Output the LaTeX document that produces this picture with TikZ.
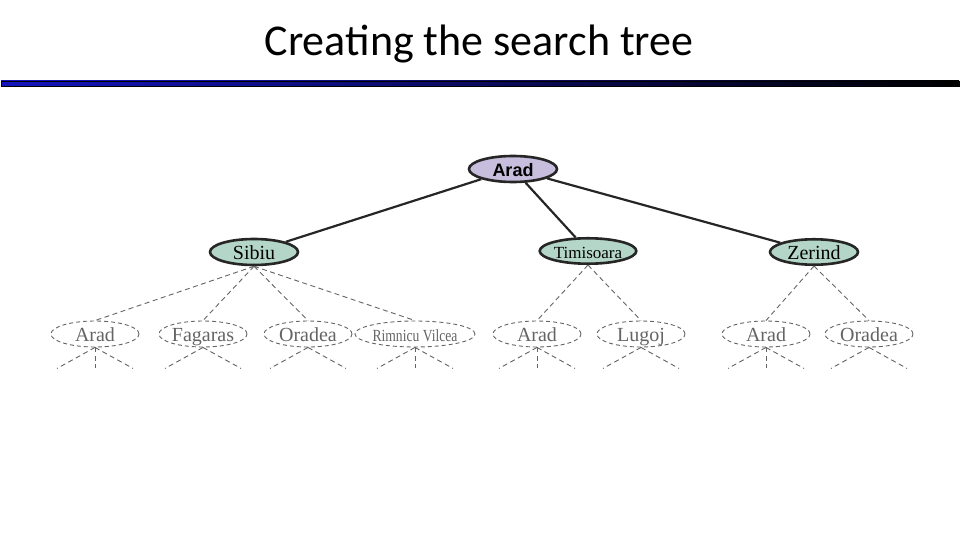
\documentclass[tikz,border=0pt]{standalone}
\usepackage{fontspec}
\setmainfont{Liberation Serif}
\newfontfamily\titlefont{Carlito}
\newfontfamily\rootfont{Liberation Sans}
\usetikzlibrary{shapes.geometric}
\definecolor{rootfill}{RGB}{198,190,220}
\definecolor{kidfill}{RGB}{180,214,200}
\definecolor{leafgray}{RGB}{100,100,100}
\definecolor{barblue}{RGB}{20,20,190}
\tikzset{
  basenode/.style={ellipse,inner sep=0pt,minimum width=88pt,minimum height=26pt,text height=16pt,text depth=2pt},
  rootnode/.style={basenode,draw=black!85,line width=2.6pt,fill=rootfill,font=\rootfont\bfseries\fontsize{18}{18}\selectfont},
  kidnode/.style={basenode,draw=black!85,line width=2.6pt,fill=kidfill,font=\fontsize{20}{20}\selectfont},
  leafnode/.style={basenode,draw=leafgray,dash pattern=on 4pt off 3pt,line width=0.9pt,text=leafgray,font=\fontsize{20}{20}\selectfont},
  solidedge/.style={draw=black!85,line width=2.2pt},
  dashedge/.style={draw=leafgray,dash pattern=on 5pt off 3.5pt,line width=0.9pt},
}
\begin{document}
\begin{tikzpicture}[x=1pt,y=-1pt]
\useasboundingbox (0,0) rectangle (960,540);
\node[font=\titlefont\fontsize{44}{44}\selectfont] (title) at (479,44) {Creating the search tree};
\shade[left color=barblue,right color=black,draw=black,line width=0.5pt] (1,81) rectangle (959,86);
\node[rootnode] (r) at (513,169) {Arad};
\node[kidnode] (s) at (254,252) {Sibiu};
\node[kidnode,font=\fontsize{17}{17}\selectfont,minimum width=90pt,minimum height=24pt] (t) at (588,251) {Timisoara};
\node[kidnode,minimum height=24pt] (z) at (814,252) {Zerind};
\draw[solidedge] (r) -- (s);
\draw[solidedge] (r) -- (t);
\draw[solidedge] (r) -- (z);
\node[leafnode] (a1) at (95,334) {Arad};
\node[leafnode] (a2) at (203,334) {Fagaras};
\node[leafnode] (a3) at (308,334) {Oradea};
\node[leafnode,font=\fontsize{17}{17}\selectfont] (a4) at (415,334) {\scalebox{0.8}[1]{Rimnicu Vilcea}};
\node[leafnode] (b1) at (537,334) {Arad};
\node[leafnode] (b2) at (641,334) {Lugoj};
\node[leafnode] (c1) at (766,334) {Arad};
\node[leafnode] (c2) at (869,334) {Oradea};
\foreach \nn/\pn in {a1/s,a2/s,a3/s,a4/s,b1/t,b2/t,c1/z,c2/z}{
  \draw[dashedge] (\pn.south) -- (\nn.north);
  \coordinate (\nn-l) at ([shift={(-38,21)}]\nn.south);
  \coordinate (\nn-r) at ([shift={(38,21)}]\nn.south);
  \draw[dashedge] (\nn.south) -- (\nn-l);
  \draw[dashedge] (\nn.south) -- (\nn-r);
}
\foreach \nn in {a1,a4,b1,c1}{
  \coordinate (\nn-m) at ([shift={(0,21)}]\nn.south);
  \draw[dashedge] (\nn.south) -- (\nn-m);
}
\end{tikzpicture}
\end{document}
